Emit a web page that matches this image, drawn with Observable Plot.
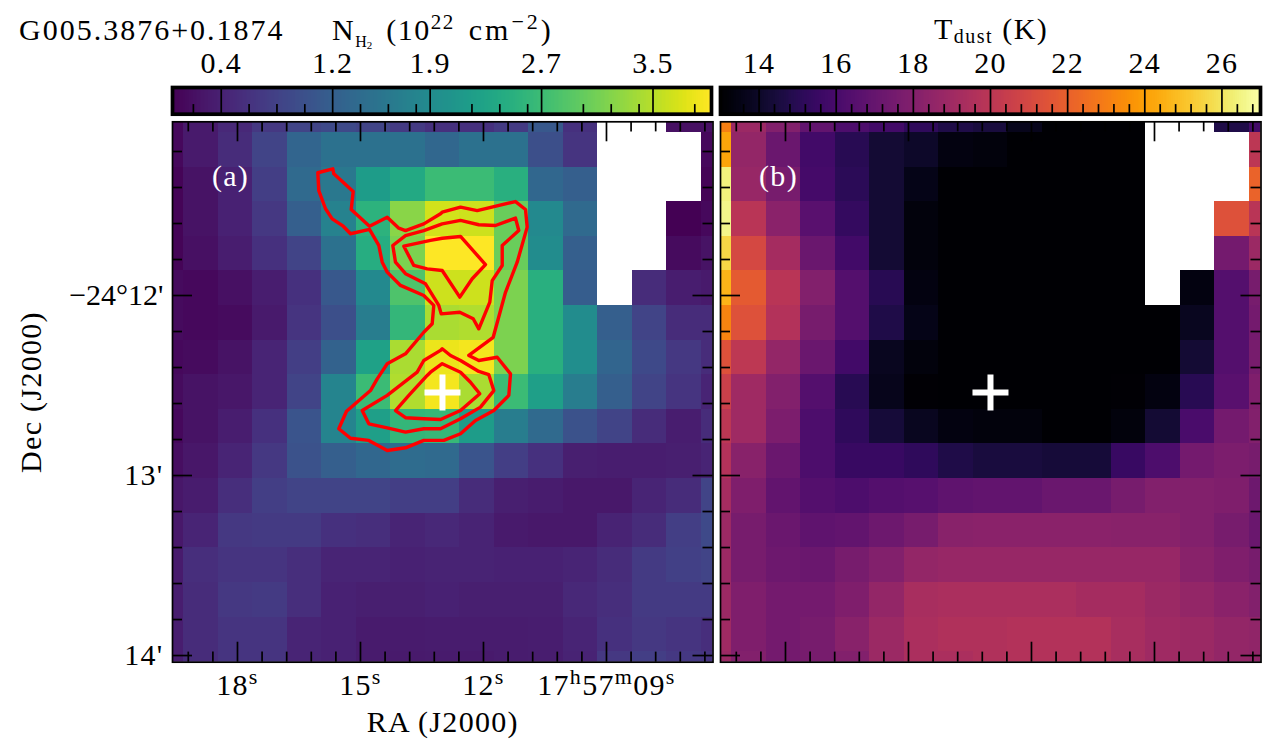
<!DOCTYPE html>
<html>
<head>
<meta charset="utf-8">
<script src="https://cdn.jsdelivr.net/npm/d3@7"></script>
<script src="https://cdn.jsdelivr.net/npm/@observablehq/plot@0.6"></script>
<style>
html,body{margin:0;padding:0;background:#fff}
#page{position:relative;width:1274px;height:753px;overflow:hidden;background:#fff;font-family:"Liberation Serif",serif;color:#000}
#page svg{position:absolute;background:transparent}
.t{position:absolute;white-space:nowrap;font-size:30px;letter-spacing:1.5px;line-height:36px}
.t sub,.t sup{line-height:0}
</style>
</head>
<body>
<div id="page">
  <div class="t" style="left:19px;top:12px;letter-spacing:2px">G005.3876+0.1874</div>
  <div class="t" style="left:332px;top:12px;word-spacing:5px">N<sub style="font-size:16px;vertical-align:-7px;letter-spacing:0">H<sub style="font-size:11px;vertical-align:-2px">2</sub></sub> (10<sup style="font-size:21px;vertical-align:11px">22</sup> <span style="letter-spacing:3px">cm</span><sup style="font-size:22px;vertical-align:11px;letter-spacing:3px">−2</sup>)</div>
  <div class="t" style="left:934px;top:11px">T<sub style="font-size:20px;vertical-align:-4px">dust</sub> (K)</div>
</div>
<script>
// ---- N(H2) column density, 10^22 cm^-2, one list per map row (null = no data)
const nRows = [
[.13,.32,.48,.67,.83,.9,.83,.71,.59,.59,.71,1.1,.59,null,null,.21,.21],
[.13,.32,.52,.83,1.29,1.49,1.49,1.49,1.33,1.49,1.49,.98,.63,null,null,null,.13],
[.09,.24,.4,.75,1.37,1.6,2.18,2.38,2.69,2.69,2.49,1.33,1.21,null,null,null,.09],
[.09,.24,.4,.67,1.21,1.76,2.53,3.23,3.66,3.62,3.04,1.87,1.37,null,null,.05,.13],
[.09,.21,.36,.59,.83,1.49,2.46,3.15,3.93,3.93,3.04,1.91,1.21,null,null,.17,.24],
[.17,.13,.21,.36,.59,1.1,1.87,2.84,3.62,3.62,3.15,2.49,1.18,null,.52,.36,.32],
[.17,.13,.17,.32,.63,.98,1.68,2.61,3.43,3.46,3.15,2.49,1.91,1.21,.83,.52,.52],
[.13,.17,.24,.44,.75,1.25,2.26,3.43,3.81,3.85,3.15,2.49,1.95,1.29,.9,.67,.52],
[.17,.24,.28,.44,.83,1.8,2.69,3.46,3.85,3.43,2.69,2.22,1.68,1.21,.83,.63,.44],
[.13,.24,.36,.59,1.06,1.8,2.22,2.61,2.65,2.18,1.68,1.37,1.02,.83,.52,.36,.52],
[.2,.28,.44,.67,1.02,1.21,1.33,1.41,1.37,1.06,.75,.59,.38,.36,.36,.38,.44],
[.28,.34,.55,.75,.83,.83,.83,.75,.75,.52,.38,.34,.3,.3,.44,.52,.83],
[.3,.44,.67,.71,.71,.59,.55,.44,.48,.42,.32,.3,.3,.42,.52,.75,.9],
[.33,.55,.63,.63,.55,.44,.44,.4,.42,.42,.4,.4,.44,.52,.71,.79,.83],
[.36,.52,.67,.71,.55,.4,.38,.38,.4,.38,.38,.38,.48,.55,.71,.71,.71],
[.36,.52,.63,.63,.44,.4,.33,.33,.34,.34,.34,.36,.44,.59,.67,.63,.55],
[.36,.52,.63,.63,.44,.4,.33,.32,.33,.32,.34,.36,.42,.67,.75,.67,.63]
];
// ---- dust temperature, K
const tRows = [
[23.1,18.9,18,16.9,16.2,15.8,15.2,14.7,14.5,13.7,13,13,13,null,null,14.7,15.8],
[24.2,18.6,17.2,15.8,15,14.3,14,13.4,13.3,13,13,13,13,null,null,null,20],
[26.4,18.7,17.6,15.9,15.1,14.3,13.6,13,13,13,13,13,13,null,null,null,22.1],
[26.6,19.9,18.3,16.6,15.4,14.3,13.3,13,13,13,13,13,13,null,null,21.4,19.9],
[25.6,21,19.2,17.2,15.8,14.3,13.3,13,13,13,13,13,13,null,null,17.5,18.9],
[24.6,21.8,19.9,18,16.4,15,13.4,13,13,13,13,13,13,null,13.4,16.4,17.6],
[23.2,21.4,19.7,17.6,16.4,14.7,13.6,13,13,13,13,13,13,13,13.8,16.4,17.5],
[21.4,20.1,18.6,17.2,15.8,13.8,13.3,13,13,13,13,13,13,13,14.3,16.4,17.6],
[20.6,19,18,16.4,15,13.7,13.1,13,13,13,13,13,13.1,13.4,15,16.6,17.9],
[20,19,17.8,16.2,15.2,14.4,13.8,13.4,13.3,13.3,13,13,13.3,14.3,16.1,17.5,18],
[19.7,18.2,17.2,16.2,15.5,15.5,15.2,14.7,14.5,14.5,14.4,14.4,15.5,16.2,17.5,17.8,17.6],
[19.2,17.9,16.9,16.4,16.2,16.4,16.5,16.8,16.9,16.9,17.2,17.2,17.6,18,18,17.9,17.3],
[18.9,17.6,17.2,16.8,16.9,17.3,17.6,18.2,18.3,18.3,18.3,18.3,18.2,18.2,18,17.6,17.2],
[18.9,17.6,17.3,17.2,17.6,18,18.6,18.7,18.7,18.7,18.7,18.7,18.7,18.7,18.2,17.9,17.6],
[18.9,17.9,17.5,17.5,17.9,18.6,19.3,19.4,19.4,19.4,19.4,19.2,19.2,18.9,18.6,18.3,18],
[19,17.9,17.5,17.6,18.2,18.9,19.4,19.6,19.6,19.7,19.7,19.7,19.3,19,18.9,18.6,18.5],
[18.9,18,17.5,17.6,18,18.9,19.4,19.4,19.6,19.7,19.7,19.7,19.3,19,18.9,18.6,18.5]
];
// ---- contours in [RA seconds past 17h57m, Dec arcmin past -24 deg]
const contourOuter = [[14.592,12.463],[14.348,12.379],[13.902,12.324],[13.456,12.204],[13.251,12.157],[13.212,12.055],[13.456,12.0],[14.024,11.944],[14.348,11.870],[14.470,11.815],[14.553,11.722],[14.78,11.633],[15.243,11.657],[15.421,11.615],[15.690,11.574],[15.853,11.518],[16.017,11.417],[16.041,11.318],[15.675,11.296],[15.651,11.324],[15.178,11.422],[15.226,11.522],[14.78,11.615],[14.348,11.565],[14.065,11.626],[13.902,11.639],[13.456,11.602],[13.048,11.546],[13.007,11.537],[12.560,11.509],[12.153,11.528],[11.219,11.478],[10.975,11.522],[10.934,11.620],[11.178,11.815],[11.463,11.982],[11.763,12.232],[12.358,12.333],[12.114,12.361],[11.665,12.343],[11.341,12.435],[11.382,12.555],[11.748,12.639],[12.195,12.694],[12.560,12.768],[12.968,12.805],[13.456,12.805],[13.902,12.846],[14.348,12.861],[14.797,12.805],[15.243,12.793],[15.529,12.740],[15.341,12.643],[14.756,12.528]];
const contourMidNorth = [[13.456,11.639],[13.902,11.667],[14.212,11.722],[14.146,11.815],[13.902,11.879],[13.414,11.935],[13.090,12.055],[13.031,12.102],[12.578,12.093],[12.251,12.129],[12.114,12.185],[11.846,12.037],[11.787,11.917],[11.543,11.833],[11.543,11.722],[11.139,11.639],[11.219,11.570],[11.707,11.611],[12.114,11.607],[12.56,11.583],[13.007,11.602]];
const contourInnerNorth = [[13.943,11.726],[13.700,11.833],[13.373,11.852],[13.007,11.861],[12.578,12.009],[12.275,11.907],[11.951,11.828],[12.56,11.672],[13.007,11.682],[13.292,11.694]];
const contourMidSouth = [[13.048,12.305],[13.456,12.361],[13.617,12.426],[14.348,12.555],[14.958,12.639],[14.797,12.713],[14.348,12.735],[13.902,12.759],[13.456,12.740],[13.048,12.740],[12.56,12.685],[12.073,12.620],[11.748,12.528],[11.870,12.440],[12.114,12.422],[12.56,12.361],[12.804,12.333],[13.007,12.296]];
const contourInnerSouth = [[13.007,12.379],[13.292,12.426],[13.373,12.444],[13.821,12.555],[14.146,12.639],[13.902,12.679],[13.456,12.685],[13.048,12.689],[12.56,12.639],[12.090,12.546],[12.317,12.482],[12.56,12.426]];
const contours = [contourOuter, contourMidNorth, contourInnerNorth, contourMidSouth, contourInnerSouth];
const source = [{ra:13.0, dec:12.539}];

// ---- axes
const raMajor = [18,15,12,9];
const raMinor = [19.2,18.6,17.4,16.8,16.2,15.6,14.4,13.8,13.2,12.6,11.4,10.8,10.2,9.6,8.4,7.8,7.2,6.6];
const raLabels = {18:"18^s",15:"15^s",12:"12^s",9:"17^h57^m09^s"};
const decMajor = [12,13,14];
const decMinor = [11.2,11.4,11.6,11.8,12.2,12.4,12.6,12.8,13.2,13.4,13.6,13.8];
const decLabels = {12:"−24°12'",13:"13'",14:"14'"};
const nTicks = [0.4,1.2,1.9,2.7,3.5];
const nMinor = [0.2,0.6,0.8,1.0,1.4,1.6,1.8,2.2,2.4,2.6,3.0,3.2,3.4,3.8];
const nDomain = [0.05,3.92];
const tTicks = [14,16,18,20,22,24,26];
const tMinor = [13.6,14.4,14.8,15.2,15.6,16.4,16.8,17.2,17.6,18.4,18.8,19.2,19.6,20.4,20.8,21.2,21.6,22.4,22.8,23.2,23.6,24.4,24.8,25.2,25.6,26.4,26.8];
const tDomain = [13,27];

// ---- map grid: sky position of the first cell edge and the cell size
const raLeft = 19.585, raRight = 6.402, decTop = 11.035, decBottom = 14.037;
const raEdge0 = 20.152, raStep = 0.8418, decEdge0 = 10.902, decStep = 0.19227;

const font = '"Liberation Serif",serif';
const page = document.getElementById("page");
const baseStyle = {fontFamily:font, fontSize:"30px", letterSpacing:"1.3px", background:"transparent", color:"black", overflow:"visible"};

function toCells(rows){
  const out = [];
  rows.forEach((row,j)=>row.forEach((v,i)=>{
    if(v!==null) out.push({x1:raEdge0-i*raStep, x2:raEdge0-(i+1)*raStep, y1:decEdge0+j*decStep, y2:decEdge0+(j+1)*decStep, v});
  }));
  return out;
}
function superscripts(svg){
  svg.querySelectorAll('g[aria-label="x-axis tick label"] text').forEach(t=>{
    const parts = t.textContent.split(/\^(.)/);
    if(parts.length<2) return;
    t.textContent = "";
    let up = false;
    parts.forEach((p,i)=>{
      if(p==="") return;
      const s = document.createElementNS("http://www.w3.org/2000/svg","tspan");
      s.textContent = p;
      const isSup = i%2===1;
      if(isSup){ s.setAttribute("font-size","22"); s.setAttribute("dy","-11"); up = true; }
      else if(up){ s.setAttribute("dy","11"); up = false; }
      t.appendChild(s);
    });
  });
  svg.querySelectorAll('g[aria-label="y-axis tick label"] text').forEach(t=>{
    if(t.textContent.startsWith("−")) t.setAttribute("letter-spacing","0");
  });
}

const clipTick = {stroke:"black", strokeWidth:1.7};
function tickMarks(){
  const majY = 0.111, minY = 0.056, majX = 0.488, minX = 0.244;
  return [
    Plot.ruleX(raMajor,{y1:decTop,y2:decTop+majY,...clipTick}),
    Plot.ruleX(raMajor,{y1:decBottom-majY,y2:decBottom,...clipTick}),
    Plot.ruleX(raMinor,{y1:decTop,y2:decTop+minY,...clipTick}),
    Plot.ruleX(raMinor,{y1:decBottom-minY,y2:decBottom,...clipTick}),
    Plot.ruleY(decMajor,{x1:raLeft,x2:raLeft-majX,...clipTick}),
    Plot.ruleY(decMajor,{x1:raRight+majX,x2:raRight,...clipTick}),
    Plot.ruleY(decMinor,{x1:raLeft,x2:raLeft-minX,...clipTick}),
    Plot.ruleY(decMinor,{x1:raRight+minX,x2:raRight,...clipTick})
  ];
}
const crossSymbol = {draw(c){c.moveTo(-18,0);c.lineTo(18,0);c.moveTo(0,-18);c.lineTo(0,18);}};

function panel({rows, scheme, domain, left, width, marginLeft, marginRight, withContours, withAxes, tag}){
  const marks = [
    Plot.rect(toCells(rows),{x1:"x1",x2:"x2",y1:"y1",y2:"y2",fill:"v",clip:true,shapeRendering:"crispEdges"})
  ];
  if(withContours) contours.forEach(c=>marks.push(
    Plot.line(c,{x:d=>d[0],y:d=>d[1],curve:"linear-closed",stroke:"#ff0000",strokeWidth:3.4,strokeLinejoin:"round",clip:true})
  ));
  marks.push(Plot.dot(source,{x:"ra",y:"dec",symbol:crossSymbol,r:18,fill:"none",stroke:"white",strokeWidth:6}));
  marks.push(...tickMarks());
  marks.push(Plot.text([{ra:18.17,dec:11.339}],{x:"ra",y:"dec",text:()=>tag,fill:"white",fontSize:30,fontFamily:font}));
  marks.push(Plot.frame({stroke:"black",strokeWidth:1.7}));
  if(withAxes){
    marks.push(Plot.axisX(raMajor,{anchor:"bottom",tickSize:0,tickPadding:11,tickFormat:d=>raLabels[d],label:"RA (J2000)",labelAnchor:"center",labelArrow:"none",labelOffset:70}));
    marks.push(Plot.axisY(decMajor,{anchor:"left",tickSize:0,tickPadding:9,tickFormat:d=>decLabels[d],label:"Dec (J2000)",labelAnchor:"center",labelArrow:"none",labelOffset:153}));
  }
  const svg = Plot.plot({
    width, height:635, marginLeft, marginRight, marginTop:3.3, marginBottom:91.3,
    style:baseStyle,
    x:{domain:[raLeft,raRight],axis:null},
    y:{domain:[decBottom,decTop],axis:null},
    color:{type:"linear",scheme,domain,clamp:true},
    marks
  });
  svg.style.left = left+"px"; svg.style.top = "118px";
  if(withAxes) superscripts(svg);
  page.appendChild(svg);
}

function colorbar({scheme, domain, step, ticks, minor, left, width, marginLeft, marginRight}){
  const levels = d3.range(domain[0],domain[1],step);
  const svg = Plot.plot({
    width, height:73, marginLeft, marginRight, marginTop:42, marginBottom:4.3,
    style:baseStyle,
    x:{domain,axis:null},
    y:{domain:[0,1],axis:null},
    color:{type:"linear",scheme,domain,clamp:true},
    marks:[
      Plot.rect(levels,{x1:d=>d,x2:d=>Math.min(d+step,domain[1]),y1:0,y2:1,fill:d=>d+step/2,shapeRendering:"crispEdges"}),
      Plot.ruleX(ticks,{y1:0,y2:1,stroke:"black",strokeWidth:1.7}),
      Plot.ruleX(minor,{y1:0,y2:0.36,stroke:"black",strokeWidth:1.7}),
      Plot.frame({stroke:"black",strokeWidth:3.7}),
      Plot.axisX(ticks,{anchor:"top",tickSize:0,tickPadding:15,tickFormat:d=>String(d),label:null})
    ]
  });
  svg.style.left = left+"px"; svg.style.top = "45px";
  page.appendChild(svg);
}

colorbar({scheme:"viridis",domain:nDomain,step:0.01,ticks:nTicks,minor:nMinor,left:0,width:716,marginLeft:172,marginRight:5});
colorbar({scheme:"inferno",domain:tDomain,step:0.025,ticks:tTicks,minor:tMinor,left:716,width:558,marginLeft:4,marginRight:14});
panel({rows:nRows,scheme:"viridis",domain:nDomain,left:0,width:716,marginLeft:172,marginRight:3.5,withContours:true,withAxes:true,tag:"(a)"});
panel({rows:tRows,scheme:"inferno",domain:tDomain,left:716,width:558,marginLeft:4,marginRight:13.5,withContours:false,withAxes:false,tag:"(b)"});
</script>
</body>
</html>
